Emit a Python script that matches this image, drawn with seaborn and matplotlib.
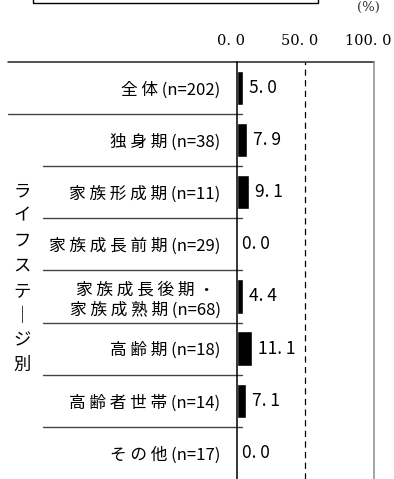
import matplotlib
matplotlib.use("Agg")
import matplotlib.pyplot as plt
import matplotlib.transforms as mtrans
import pandas as pd
import seaborn as sns

# === data ===
categories = ["全体(n=202)", "独身期(n=38)", "家族形成期(n=11)", "家族成長前期(n=29)",
              "家族成長後期・\n家族成熟期(n=68)", "高齢期(n=18)", "高齢者世帯(n=14)", "その他(n=17)"]
values = [5.0, 7.9, 9.1, 0.0, 4.4, 11.1, 7.1, 0.0]
tick_values = [0, 50, 100]
tick_labels = ["0. 0", "50. 0", "100. 0"]
group_label = "ライフステージ別"
unit_label = "(%)"


def spaced(label):
    # a little extra room after each full-width character, like the original
    out = ""
    for i, ch in enumerate(label):
        out += ch
        if ord(ch) > 0x2FFF and i + 1 < len(label) and label[i + 1] != "\n":
            out += " "
    return out


# === style ===
sns.set_theme(style="white")
plt.rcParams["font.family"] = ["Noto Sans CJK JP", "DejaVu Sans"]

W, H = 394, 479
fig = plt.figure(figsize=(W / 100, H / 100), dpi=100)
x0, x1, top = 236.5, 374, 61.7
ax = fig.add_axes([x0 / W, 0, (x1 - x0) / W, (H - top) / H])

df = pd.DataFrame({"category": categories, "value": values})
sns.barplot(data=df, x="value", y="category", color="black", width=0.66,
            errorbar=None, saturation=1, ax=ax)

ax.set_xlim(0, 100)
ax.set_ylim(len(categories) - 0.5, -0.5)
ax.set_xlabel("")
ax.set_ylabel("")

# category labels
ax.set_yticks(range(len(categories)), [spaced(c) for c in categories])
ax.tick_params(axis="y", length=0, pad=11.5, labelsize=12, labelcolor="black")
for lbl in ax.get_yticklabels():
    lbl.set_multialignment("center")
    lbl.set_linespacing(1.25)

# scale on top
ax.xaxis.tick_top()
ax.set_xticks(tick_values, tick_labels)
ax.tick_params(axis="x", length=0, pad=10, labelsize=10.5, labelcolor="black")
shift = mtrans.ScaledTranslation(-6 / 100, 0, fig.dpi_scale_trans)
for lbl in ax.get_xticklabels():
    lbl.set_fontfamily("DejaVu Serif")
    lbl.set_transform(lbl.get_transform() + shift)

# frame
for side in ["top", "bottom"]:
    ax.spines[side].set_visible(False)
ax.spines["left"].set_color("black")
ax.spines["left"].set_linewidth(1.1)
ax.spines["right"].set_color("#8a8a8a")
ax.spines["right"].set_linewidth(1.1)

ax.axvline(50, color="black", lw=0.9, ls=(0, (5, 3.5)))

# row separators
tr = mtrans.blended_transform_factory(fig.transFigure, ax.transData)
ax.plot([8 / W, x1 / W], [-0.5, -0.5], transform=tr, clip_on=False, color="#222222", lw=1.1)
for i in range(1, len(categories)):
    start = 8 / W if i == 1 else 43 / W
    ax.plot([start, 242 / W], [i - 0.5, i - 0.5], transform=tr, clip_on=False,
            color="#444444", lw=1)

# value labels
for i, v in enumerate(values):
    ax.annotate(f"{v:.1f}".replace(".", ". "), (v, i), xytext=(4.3, 0),
                textcoords="offset points", ha="left", va="center",
                fontsize=12.5, color="black")

# vertical group label
pitch = 24.9
for k, ch in enumerate(group_label):
    if ch == "ー":
        ch = "｜"
    fig.text(22 / W, 1 - (191 + k * pitch) / H, ch, ha="center", va="center",
             fontsize=12.5, color="black")

# unit and the box cut off at the top
fig.text(368 / W, 1 - 7 / H, unit_label, ha="center", va="center",
         fontsize=9.5, family="DejaVu Serif", color="#333333")
fig.add_artist(plt.Rectangle((33 / W, 1 - 3 / H), 285 / W, 0.1, transform=fig.transFigure,
                             fill=False, lw=1, ec="black", clip_on=False))

fig.savefig("out.png", dpi=100)
